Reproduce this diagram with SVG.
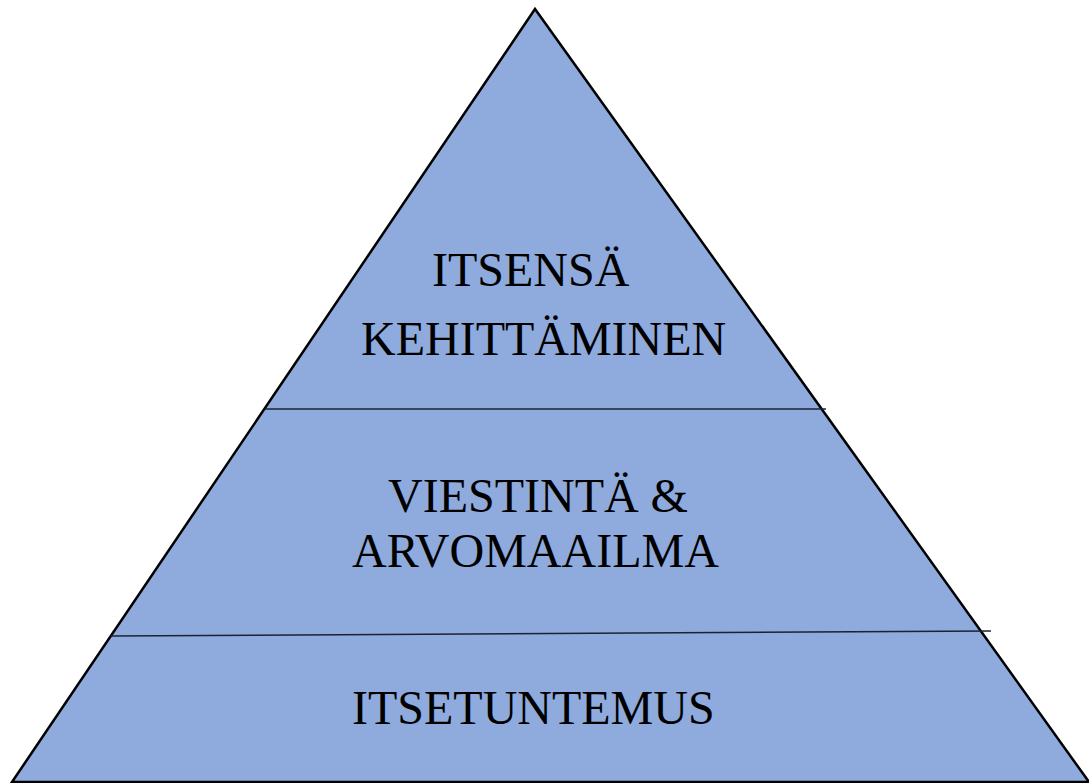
<svg xmlns="http://www.w3.org/2000/svg" width="1089" height="783" viewBox="0 0 1089 783">
<style>
.t{font-family:"Liberation Serif","Times New Roman",serif;font-size:48px;fill:#000}
.div{stroke:#1c2233;stroke-width:1.5;fill:none}
</style>
<rect width="1089" height="783" fill="#fff"/>
<g id="pyramid">
<polygon points="535,9 12,782 1089,782" fill="#8faadc" stroke="#000" stroke-width="2.5" stroke-linejoin="miter"/>
</g>
<g id="dividers">
<line class="div" x1="265" y1="409" x2="826" y2="409"/>
<line class="div" x1="111" y1="636" x2="991" y2="631"/>
</g>
<g id="tier-top">
<text class="t" x="432" y="286">ITSENSÄ</text>
<text class="t" x="361" y="355">KEHITTÄMINEN</text>
</g>
<g id="tier-middle">
<text class="t" x="388" y="512">VIESTINTÄ &amp;</text>
<text class="t" x="352" y="567">ARVOMAAILMA</text>
</g>
<g id="tier-bottom">
<text class="t" x="352" y="724">ITSETUNTEMUS</text>
</g>
</svg>
